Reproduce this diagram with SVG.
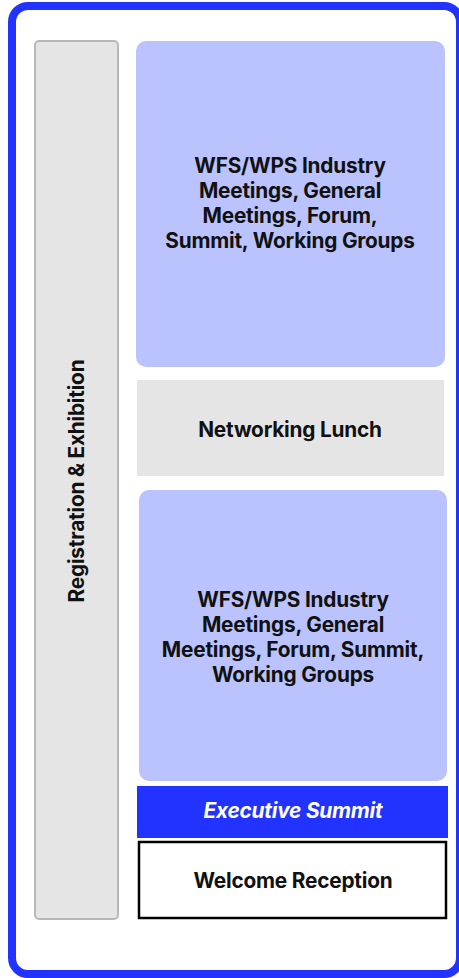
<svg xmlns="http://www.w3.org/2000/svg" width="459" height="978" viewBox="0 0 459 978">
<style>
.t{font-family:Inter,"Liberation Sans",Arial,sans-serif;font-weight:700;font-size:20.8px;fill:#111;text-anchor:middle;letter-spacing:-0.2px}
.blue{fill:#bac3fd}
.gray{fill:#e5e5e5}
</style>
<rect x="0" y="0" width="459" height="978" fill="#fff"/>
<g id="frame"><rect x="12" y="6" width="448" height="968" rx="16" fill="none" stroke="#2233ff" stroke-width="8"/></g>
<g id="registration">
<rect x="35" y="41" width="83" height="878" rx="4" class="gray" stroke="#b8b8b8" stroke-width="2"/>
<text class="t" transform="translate(84,481) rotate(-90)">Registration &amp; Exhibition</text>
</g>
<g id="sessions-am">
<rect x="136" y="41" width="309" height="326" rx="10" class="blue"/>
<text class="t"><tspan x="290" y="173">WFS/WPS Industry</tspan><tspan x="290" y="198">Meetings, General</tspan><tspan x="290" y="223">Meetings, Forum,</tspan><tspan x="290" y="248">Summit, Working Groups</tspan></text>
</g>
<g id="lunch">
<rect x="137" y="380" width="307" height="96" class="gray"/>
<text class="t" x="290" y="437">Networking Lunch</text>
</g>
<g id="sessions-pm">
<rect x="139" y="490" width="308" height="291" rx="10" class="blue"/>
<text class="t"><tspan x="293" y="607">WFS/WPS Industry</tspan><tspan x="293" y="632">Meetings, General</tspan><tspan x="293" y="657">Meetings, Forum, Summit,</tspan><tspan x="293" y="682">Working Groups</tspan></text>
</g>
<g id="executive">
<rect x="137" y="786" width="311" height="52" fill="#2233ff"/>
<text class="t" x="293" y="818" style="fill:#fff;font-style:italic">Executive Summit</text>
</g>
<g id="reception">
<rect x="139" y="842" width="307" height="76" fill="#fff" stroke="#000" stroke-width="2.5"/>
<text class="t" x="293" y="888">Welcome Reception</text>
</g>
<g id="connectors"/>
</svg>
